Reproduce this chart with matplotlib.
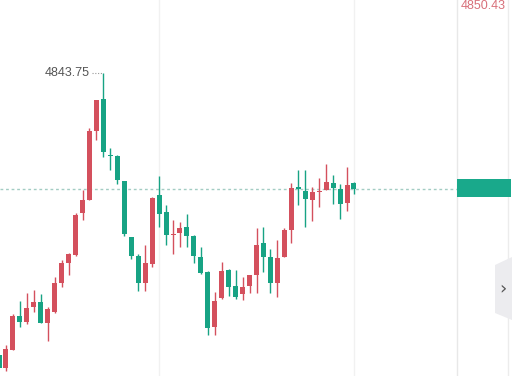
"""
Intraday candlestick chart with last-price tag and high marker.
"""
import matplotlib
matplotlib.use("Agg")
import matplotlib.pyplot as plt
from matplotlib.patches import Polygon, Rectangle

# OHLC per candle (price)
opens = [4815.55, 4814.25, 4816.05, 4819.45, 4818.85, 4820.35, 4820.85, 4818.75, 4819.85, 4822.75,
         4824.75, 4825.55, 4829.75, 4831.05, 4837.95, 4841.15, 4835.55, 4835.45, 4832.95, 4827.35,
         4825.45, 4822.75, 4824.65, 4831.55, 4829.85, 4827.55, 4827.75, 4828.35, 4827.45, 4825.35,
         4823.85, 4818.35, 4821.25, 4824.05, 4822.45, 4821.65, 4822.45, 4823.55, 4826.75, 4825.35,
         4822.75, 4825.35, 4828.05, 4832.35, 4831.95, 4831.05, 4831.85, 4832.05, 4832.75, 4832.15,
         4830.75, 4832.75]
closes = [4814.25, 4816.15, 4819.45, 4818.85, 4820.25, 4820.85, 4818.75, 4820.15, 4822.75, 4824.75,
          4825.65, 4829.55, 4831.05, 4837.95, 4841.05, 4835.85, 4835.45, 4833.05, 4827.65, 4825.45,
          4822.75, 4824.75, 4831.25, 4829.65, 4827.55, 4827.65, 4828.25, 4827.45, 4825.45, 4823.75,
          4818.25, 4820.95, 4823.95, 4822.35, 4821.35, 4822.35, 4823.55, 4826.55, 4825.35, 4822.75,
          4825.25, 4828.05, 4832.25, 4832.15, 4831.15, 4831.85, 4831.95, 4832.85, 4832.25, 4830.65,
          4832.55, 4832.15]
highs = [4816.05, 4816.55, 4819.65, 4820.95, 4821.75, 4822.05, 4821.65, 4820.35, 4823.35, 4825.05,
         4825.75, 4829.75, 4832.05, 4838.25, 4841.05, 4843.75, 4836.25, 4835.55, 4832.95, 4827.35,
         4825.65, 4826.55, 4831.35, 4833.45, 4830.55, 4829.05, 4828.85, 4829.65, 4827.55, 4826.35,
         4823.95, 4821.85, 4824.85, 4824.15, 4824.05, 4823.35, 4823.55, 4828.25, 4828.35, 4826.15,
         4827.05, 4828.25, 4832.75, 4834.05, 4834.05, 4832.35, 4833.25, 4834.65, 4833.55, 4832.65,
         4834.35, 4832.85]
lows = [4813.85, 4813.95, 4816.05, 4818.35, 4818.65, 4819.85, 4818.75, 4816.95, 4819.75, 4822.35,
        4823.55, 4825.45, 4829.05, 4831.05, 4837.05, 4835.35, 4834.05, 4832.65, 4827.45, 4825.15,
        4821.95, 4821.95, 4824.35, 4828.35, 4826.55, 4825.65, 4826.35, 4826.35, 4824.75, 4823.65,
        4817.55, 4817.55, 4821.15, 4821.45, 4821.15, 4821.05, 4821.75, 4821.75, 4823.85, 4821.75,
        4821.35, 4825.35, 4826.75, 4830.55, 4828.35, 4828.95, 4830.35, 4832.05, 4830.65, 4829.15,
        4829.95, 4831.65]

high_label = "4843.75"
top_label = "4850.43"

W, H = 514, 376
RED = "#d4505d"
TEAL = "#17a384"


def px(x, y):
    """Pixel (from top-left) to figure fraction."""
    return x / W, 1 - y / H


def main():
    fig = plt.figure(figsize=(W / 100, H / 100), dpi=100)
    fig.patch.set_facecolor("white")
    ax = fig.add_axes([0, 0, 457 / W, 1])
    ax.set_xlim(0.144, 65.8)
    ax.set_ylim(4813.45, 4851.05)
    ax.axis("off")

    # faint vertical grid
    for gx in (23, 51):
        ax.axvline(gx, color="#f1f1f1", lw=1, zorder=0)

    # candles
    bw = 0.72
    for i, (o, c, h, l) in enumerate(zip(opens, closes, highs, lows)):
        col = RED if c >= o else TEAL
        ax.vlines(i, l, h, color=col, lw=1, zorder=2)
        bot = min(o, c)
        hgt = max(abs(c - o), 0.12)
        ax.add_patch(Rectangle((i - bw / 2, bot), bw, hgt, color=col, lw=0, zorder=3))

    # last price dotted line
    ax.axhline(closes[-1], color="#a3ccc3", lw=1, ls=(0, (2, 2)), zorder=1)

    # high marker
    imax = highs.index(max(highs))
    ax.plot([imax - 1.6, imax], [highs[imax], highs[imax]], color="#999999", lw=0.8, ls=(0, (1, 1.5)))
    ax.text(imax - 2.0, highs[imax], high_label, ha="right", va="center",
            fontsize=9, color="#555555", family="Liberation Sans")

    # right price axis area
    fig.add_artist(plt.Line2D([457 / W] * 2, [0, 1], color="#e8e8e8", lw=1, zorder=1))
    fig.add_artist(plt.Line2D([508 / W] * 2, [0, 1], color="#ececec", lw=1, zorder=1))
    tx, ty = px(457, 197)
    fig.add_artist(Rectangle((tx, ty), 54 / W, 18 / H, color="#19a98b", lw=0, zorder=3))
    x0, y0 = px(483, 9)
    fig.text(x0, y0, top_label, ha="center", va="baseline", fontsize=9,
             color="#d8707a", family="Liberation Sans")

    # collapse tab
    pts = [px(512, 257), px(495, 265), px(495, 313), px(512, 320)]
    fig.add_artist(Polygon(pts, closed=True, facecolor="#ececef", edgecolor="none", zorder=3))
    cx, cy = px(503, 289)
    fig.text(cx, cy, "›", ha="center", va="center", fontsize=13, color="#555555", zorder=4)

    fig.savefig("out.png", dpi=100)


if __name__ == "__main__":
    main()
